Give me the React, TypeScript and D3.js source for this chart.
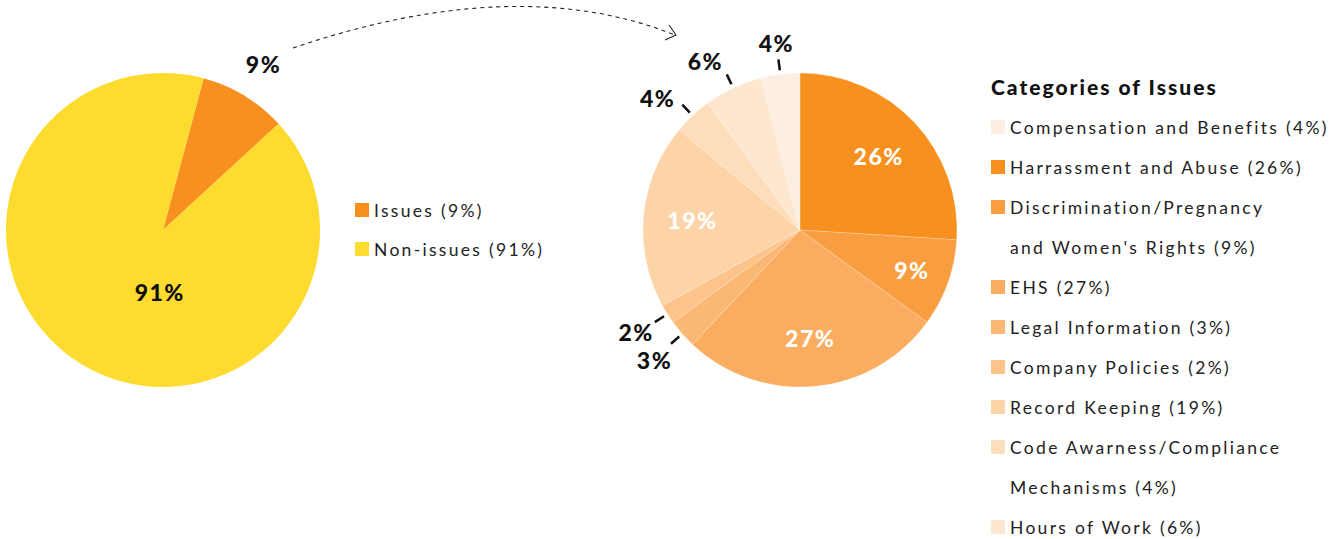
import React, { useEffect } from "react";
import * as d3 from "d3";

const overviewNames = ["Issues", "Non-issues"];
const overviewValues = [9, 91];
const overviewColors = ["#F7901E", "#FEDB2F"];

const categoryNames = [
  "Harrassment and Abuse",
  "Discrimination/Pregnancy\nand Women's Rights",
  "EHS",
  "Legal Information",
  "Company Policies",
  "Record Keeping",
  "Code Awarness/Compliance\nMechanisms",
  "Hours of Work",
  "Compensation and Benefits",
];
const categoryValues = [26, 9, 27, 3, 2, 19, 4, 6, 4];
const categoryColors = [
  "#F7901E",
  "#F89D40",
  "#FAAC60",
  "#FBB874",
  "#FCC38A",
  "#FDD3A8",
  "#FEDDBA",
  "#FEE7D0",
  "#FEEEE1",
];
const legendOrder = [8, 0, 1, 2, 3, 4, 5, 6, 7];
const legendTitle = "Categories of Issues";

const deg = Math.PI / 180;
const LABEL_FONT = "Lato, 'Open Sans', sans-serif";
const TEXT_FONT = "Lato, 'Open Sans', sans-serif";

export default function App() {
  useEffect(() => {
    document.body.style.margin = "0";
  }, []);

  const R = 157;
  const leftC = { x: 163, y: 230 };
  const rightC = { x: 800, y: 230 };

  const pieLeft = d3
    .pie<number>()
    .sort(null)
    .startAngle(15 * deg)
    .endAngle(375 * deg)(overviewValues);
  const pieRight = d3.pie<number>().sort(null)(categoryValues);
  const arc = d3.arc<d3.PieArcDatum<number>>().innerRadius(0).outerRadius(R);

  const polar = (c: { x: number; y: number }, a: number, r: number) => ({
    x: c.x + r * Math.sin(a),
    y: c.y - r * Math.cos(a),
  });

  // legend rows
  const rows: { idx: number; text: string; first: boolean }[] = [];
  legendOrder.forEach((i) => {
    const parts = categoryNames[i].split("\n");
    parts.forEach((p, k) => {
      const isLast = k === parts.length - 1;
      rows.push({
        idx: i,
        text: isLast ? `${p} (${categoryValues[i]}%)` : p,
        first: k === 0,
      });
    });
  });

  const labelStyle = {
    fontFamily: LABEL_FONT,
    fontWeight: 900,
    fontSize: 23,
    letterSpacing: 1.5,
  } as const;

  const legendTextStyle = {
    fontFamily: TEXT_FONT,
    fontSize: 17.5,
    letterSpacing: 2.3,
  } as const;

  // outside labels: angle-based, small tangential nudge for crowded left side
  const outside = pieRight
    .map((d, i) => ({ d, i }))
    .filter(({ i }) => categoryValues[i] < 9)
    .map(({ d, i }) => {
      const mid = (d.startAngle + d.endAngle) / 2;
      const leftSide = Math.sin(mid) < -0.3;
      const la = mid - (leftSide && Math.cos(mid) > 0 ? 4 * deg : 0);
      return {
        i,
        mid,
        a: polar(rightC, mid, 161),
        b: polar(rightC, mid, 172),
        t: polar(rightC, la, leftSide ? 194 : 188),
      };
    });
  // push apart vertically crowded labels on the lower-left side
  const MIN_GAP = 28;
  const lowers = outside
    .filter((o) => o.t.y > rightC.y)
    .sort((p, q) => p.t.y - q.t.y);
  for (let k = 1; k < lowers.length; k++) {
    const gap = lowers[k].t.y - lowers[k - 1].t.y;
    if (gap < MIN_GAP) {
      const s = (MIN_GAP - gap) / 2;
      lowers[k - 1].t.y -= s;
      lowers[k].t.y += s;
    }
  }

  const arrowStart = { x: 293, y: 48 };
  const arrowCtrl = { x: 517, y: -28 };
  const arrowEnd = { x: 675, y: 35 };

  return (
    <svg
      width={1342}
      height={539}
      style={{ display: "block", background: "#fff" }}
    >
      {/* Left pie */}
      <g transform={`translate(${leftC.x},${leftC.y})`}>
        {pieLeft.map((d, i) => (
          <path key={i} d={arc(d) || ""} fill={overviewColors[i]} />
        ))}
      </g>
      {pieLeft.map((d, i) => {
        const mid = (d.startAngle + d.endAngle) / 2;
        const p =
          i === 0 ? polar(leftC, mid, 194) : polar(leftC, 183 * deg, 62);
        return (
          <text
            key={i}
            x={p.x}
            y={p.y}
            textAnchor="middle"
            dominantBaseline="central"
            fill="#111"
            style={labelStyle}
          >
            {overviewValues[i]}%
          </text>
        );
      })}

      {/* Left legend */}
      {overviewNames.map((n, i) => (
        <g key={n} transform={`translate(355,${210 + i * 39})`}>
          <rect x={0} y={-7} width={14} height={14} fill={overviewColors[i]} />
          <text
            x={19}
            y={0}
            dominantBaseline="central"
            fill="#222"
            style={legendTextStyle}
          >
            {n} ({overviewValues[i]}%)
          </text>
        </g>
      ))}

      {/* Dashed arrow */}
      <path
        d={`M${arrowStart.x},${arrowStart.y} Q${arrowCtrl.x},${arrowCtrl.y} ${arrowEnd.x},${arrowEnd.y}`}
        fill="none"
        stroke="#222"
        strokeWidth={1.1}
        strokeDasharray="4 4"
      />
      <path
        d={`M${arrowEnd.x - 6},${arrowEnd.y - 10} L${arrowEnd.x + 1},${arrowEnd.y} L${arrowEnd.x - 10},${arrowEnd.y + 5}`}
        fill="none"
        stroke="#222"
        strokeWidth={1.1}
      />

      {/* Right pie */}
      <g transform={`translate(${rightC.x},${rightC.y})`}>
        {pieRight.map((d, i) => (
          <path
            key={i}
            d={arc(d) || ""}
            fill={categoryColors[i]}
            stroke="#fff"
            strokeOpacity={0.35}
            strokeWidth={0.6}
          />
        ))}
      </g>
      {pieRight.map((d, i) => {
        const mid = (d.startAngle + d.endAngle) / 2;
        const v = categoryValues[i];
        if (v < 9) return null;
        const p = polar(rightC, mid, v < 10 ? 119 : 108);
        return (
          <text
            key={i}
            x={p.x}
            y={p.y}
            textAnchor="middle"
            dominantBaseline="central"
            fill="#fff"
            style={labelStyle}
          >
            {v}%
          </text>
        );
      })}
      {outside.map((o) => (
        <g key={o.i}>
          <line
            x1={o.a.x}
            y1={o.a.y}
            x2={o.b.x}
            y2={o.b.y}
            stroke="#111"
            strokeWidth={2.5}
          />
          <text
            x={o.t.x}
            y={o.t.y}
            textAnchor="middle"
            dominantBaseline="central"
            fill="#111"
            style={labelStyle}
          >
            {categoryValues[o.i]}%
          </text>
        </g>
      ))}

      {/* Right legend */}
      <text
        x={991}
        y={86}
        dominantBaseline="central"
        fill="#111"
        style={{
          fontFamily: LABEL_FONT,
          fontWeight: 900,
          fontSize: 21,
          letterSpacing: 2,
        }}
      >
        {legendTitle}
      </text>
      {rows.map((r, k) => (
        <g key={k} transform={`translate(991,${127 + k * 40})`}>
          {r.first && (
            <rect
              x={0}
              y={-7}
              width={14}
              height={14}
              fill={categoryColors[r.idx]}
            />
          )}
          <text
            x={19}
            y={0}
            dominantBaseline="central"
            fill="#222"
            style={legendTextStyle}
          >
            {r.text}
          </text>
        </g>
      ))}
    </svg>
  );
}
